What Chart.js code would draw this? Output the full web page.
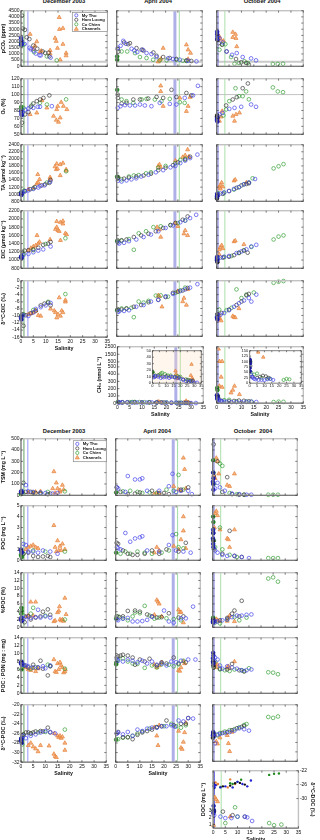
<!DOCTYPE html>
<html>
<head>
<meta charset="utf-8">
<script src="https://cdn.jsdelivr.net/npm/chart.js@4.4.1/dist/chart.umd.min.js"></script>
<style>
  body { margin: 0; width: 320px; height: 840px; position: relative; overflow: hidden; background: #fff; }
  canvas { position: absolute; }
  .ct { position: absolute; transform: translateX(-50%); font: bold 5.8px "Liberation Sans", Arial, sans-serif; line-height: 1; white-space: nowrap; color: #111; }
</style>
</head>
<body>
<div class="ct" style="left:64px;top:-1.5px">December 2003</div>
<div class="ct" style="left:158px;top:-1.5px">April 2004</div>
<div class="ct" style="left:262px;top:-1.5px">October 2004</div>
<div class="ct" style="left:64px;top:429px">December 2003</div>
<div class="ct" style="left:157px;top:429px">April 2004</div>
<div class="ct" style="left:253px;top:429px">October&nbsp; 2004</div>
<script>
// every panel array: [My Tho, Ham Luong, Co Chien, Channels], points are [salinity, value]
const SERIES_NAMES = ['My Tho', 'Ham Luong', 'Co Chien', 'Channels'];

const pco2Dec = [
  [[0,2300],[0.2,2050],[0.3,1850],[0.1,1750],[1.5,1800],[3.5,1500],[4,1380],[5,1280],[6,1030],[7.5,900],[8,880],[12,700]],
  [[0.4,4100],[0.7,3050],[1.6,2950],[2.3,2350],[3.4,2200],[5,1680],[6.6,1420],[8.8,1200],[9.8,1080],[11.2,1100],[11.5,800]],
  [[0.1,1880],[0.2,1700],[0.3,1780],[1,1750],[5.3,1150],[10.5,800],[14.5,480]],
  [[3.7,2600],[5,1390],[5.7,1660],[6.4,2000],[7.7,1150],[8.2,1250],[11.8,1290],[11.8,1020],[13.8,2280],[14.3,2030],[14.8,1470],[15.5,3960],[15.6,3000],[17,3080],[17,1790],[18.3,1070],[18.3,860],[15.9,530]]
];
const pco2Apr = [
  [[0.5,1500],[1.6,1660],[2.7,2060],[3.8,1820],[6.1,1420],[7.2,1280],[8.4,1150],[10.6,1340],[12.2,1070],[14.2,990],[16.3,750],[21,640],[23,590],[25.8,530],[29.2,450],[32.6,400]],
  [[0.4,1390],[0.7,1200],[3,1930],[4.7,1790],[5.4,1870],[8.1,1470],[10.2,1340],[10.9,1280],[15,1120],[16.3,850],[19,750],[21.7,670],[24.4,590],[28.5,480],[30.5,430]],
  [[0.2,800],[0.2,530],[2,1200],[4.3,1200],[7.5,1070],[9.5,750],[12.2,670],[14.9,530],[17.6,480],[20.4,480],[24.4,530],[27,450],[28.5,430]],
  [[19,1470],[17.4,480],[17,370],[18,590],[28.5,1740],[29.2,1340],[30.2,1070],[29.2,590]]
];
const pco2Oct = [
  [[0.2,2800],[0.2,2600],[0.3,2400],[0.2,2200],[1.1,2270],[2.4,1930],[4,1200],[6.2,930],[8.1,1070],[10.5,750],[13.9,640],[15.9,480]],
  [[0.3,2140],[0.8,1870],[2.2,1740],[4,1200],[7.8,590],[9.9,320],[11.9,270],[13,130]],
  [[1.1,1340],[2.2,1790],[3.5,1790],[5.8,750],[7.2,210],[9,270],[11.2,400],[12.6,270],[22.7,190],[24.7,190],[26.8,210]],
  [[1.1,2410],[1.5,2200],[2.7,2060],[6.5,2760],[6.5,2350],[7.6,2600],[7.8,2270],[8.1,1600]]
];

const o2Dec = [
  [[0.1,79],[0.2,76],[0.3,74],[0.7,78],[1.6,81],[3,82.5],[5,83.3],[6.8,84.6],[7.7,84.6],[12.5,85.4]],
  [[0.4,64.6],[1.6,75],[3,78],[4,84.6],[5,88.8],[6.4,91.7],[7.7,93.8],[9.1,95.8],[11.5,99]],
  [[0.1,84.6],[0.2,82],[1,83.3],[4.3,86.3],[7.7,89.6],[10.5,87.5],[18.3,94]],
  [[3.7,75],[6.4,77],[8.5,92.5],[10.5,83.3],[13.2,72.9],[14.3,67.9],[15.2,65.4],[15.9,70.8],[16.3,90.4],[17.2,85.4],[18.6,81.3],[14.5,81.3],[14.9,85.4]]
];
const o2Apr = [
  [[0.4,83.3],[1.6,85.4],[3.4,86.7],[5.4,86.3],[7.5,86.3],[9.5,87.5],[11.5,86.3],[14.2,85.4],[17.6,89.6],[21.7,88.3],[24.4,87.5],[27.8,95.8],[31.2,99],[33.2,111]],
  [[0.4,100],[0.5,95.8],[2,88.8],[4,89.6],[6.8,93.8],[9.5,93.8],[12.9,95],[16.3,97],[19,95.8],[22.4,106],[24.4,97],[28.5,102],[30.5,99]],
  [[0.2,106],[2,93.8],[4,91.7],[6.8,89.6],[10.2,93.8],[12.2,94.6],[15.6,93.8],[18.3,91.7],[21.7,94.6],[25.8,90.4],[27.8,89.6]],
  [[18,111],[18,104],[19,85.4],[25.8,95.8],[28.5,79],[29.2,85.4],[30,96.7]]
];
const o2Oct = [
  [[0.1,68],[0.2,70],[0.3,66],[1.1,75],[2.4,77],[5.1,82],[7.2,83.3],[9.9,84.6],[13.9,87.5],[15.9,84.6]],
  [[0.1,72],[0.2,74],[0.3,71],[3.8,86.3],[6.5,93.8],[8.1,96.7],[10.5,108],[12.6,114]],
  [[2.7,73.8],[3.8,81.3],[5.1,91.7],[7.6,108],[9,98],[10.5,98],[11.9,104],[13,94],[22.7,109],[24.7,104],[26.8,103]],
  [[1.1,66.7],[1.8,72],[2.2,79.2],[6.5,73],[7.2,66.7],[7.8,75],[9.2,77]]
];

const taDec = [
  [[0,1000],[0.1,1030],[0.2,980],[0.7,1060],[1.6,1080],[3,1110],[5,1150],[7,1190],[7.7,1230],[9.5,1250],[11.8,1350]],
  [[0.3,1020],[1.6,1090],[3.7,1140],[5.7,1200],[8.4,1250],[9.8,1280],[11.5,1320],[12,1400]],
  [[0.1,1060],[1.2,1100],[5,1170],[10.5,1330],[18.3,1650]],
  [[3,1140],[5,1180],[6.4,1300],[7,1330],[7.5,1420],[6.8,1560],[11.8,1480],[11.8,1430],[13.8,1780],[14.3,1700],[14.8,1720],[14.5,1860],[15.9,1840],[17,1880],[15.9,1530],[18.3,1700],[18.3,1660]]
];
const taApr = [
  [[0.5,1380],[2,1360],[4,1390],[6,1420],[8,1450],[10,1500],[13,1550],[16,1620],[19,1680],[22,1760],[24,1800],[26,1880],[28,1950],[30,2020],[33,2120]],
  [[0.4,1450],[0.6,1480],[3,1440],[5,1470],[8,1500],[11,1530],[14,1580],[17,1680],[20,1750],[23,1820],[25,1900],[28,1980],[30,2060]],
  [[0.2,1500],[0.5,1460],[2,1420],[5,1500],[7,1530],[9,1540],[12,1590],[14,1620],[17,1750],[20,1800],[24,1880],[26,1970],[28,2000]],
  [[17,1800],[17.5,1840],[18,1760],[24,1950],[27,2050],[28,2100],[29,2260],[29.5,2060]]
];
const taOct = [
  [[0.1,930],[0.2,960],[0.3,990],[0.2,1010],[1.5,1020],[3,1050],[5,1090],[7,1150],[9,1200],[11,1280],[13,1330],[15.5,1430]],
  [[0.1,880],[0.3,940],[2.5,1010],[5,1090],[8,1180],[10,1250],[12,1290],[13,1310]],
  [[0.5,1030],[3,1040],[7,1130],[9,1200],[11,1280],[13,1330],[14.5,1450],[23,1730],[25,1790],[27,1850]],
  [[1,1200],[1.5,1260],[2,1330],[1.5,1150],[2.5,1210],[7,1380],[7.5,1410],[12,1330]]
];

const dicDec = [
  [[0,1070],[0.2,1100],[0.3,1050],[1,1120],[3,1150],[5,1190],[7,1230],[9,1260],[12,1330]],
  [[0.4,1200],[1.5,1230],[3,1240],[5,1260],[7,1300],[9,1370],[11,1400],[12,1440]],
  [[0.2,1090],[1,1150],[5,1240],[10,1390],[18,1530]],
  [[3,1230],[4,1290],[5,1330],[6,1360],[7,1400],[6.5,1600],[7.5,1440],[11.8,1500],[14,1750],[14.5,1800],[15,1720],[15.5,1700],[14.5,1940],[16,1920],[17,1880],[17,1950],[16,1480],[18,1650],[18.5,1620]]
];
const dicApr = [
  [[0.5,1420],[1,1400],[3,1420],[5,1460],[8,1500],[11,1560],[14,1620],[17,1700],[20,1780],[23,1840],[26,1920],[28,1960],[30,2020],[32.5,2100]],
  [[0.4,1480],[2,1480],[4,1500],[7,1560],[10,1600],[13,1640],[16,1700],[19,1780],[22,1850],[24,1900],[27,1980],[29,2060]],
  [[0.2,1460],[2,1470],[5,1510],[7,1250],[9,1650],[12,1700],[15,1800],[18,1820],[22,1850],[25,1900],[28,1960]],
  [[16.5,1800],[17.5,1740],[18,1560],[24,1900],[25,1820],[27.5,1640],[28,1720],[29,1600]]
];
const dicOct = [
  [[0.2,990],[0.3,1020],[0.1,1050],[0.2,1080],[1.5,1060],[3,1080],[5,1100],[8,1170],[10,1210],[12,1260],[14,1330],[16,1370]],
  [[0.3,950],[0.1,1000],[2.5,1060],[5,1080],[7,1120],[9,1180],[11,1230],[12.5,1180]],
  [[0.5,1060],[3,1070],[6,1100],[9,1170],[11,1240],[14,1320],[23,1500],[25,1570],[27,1600]],
  [[1,1250],[1.5,1310],[2,1360],[2.5,1280],[1,1140],[7,1450],[7.5,1470],[11,1380]]
];

const d13dicDec = [
  [[0,-10.5],[0.2,-11],[0.3,-10],[1,-9.8],[3,-10],[5,-9],[6,-8],[8,-7.5],[10,-7],[12,-6.3]],
  [[0.5,-9.5],[1,-12.8],[2,-9.8],[4,-9.2],[6,-8.5],[8,-7],[9.5,-6.5],[11,-6.2],[12,-7]],
  [[0.2,-9.8],[1,-9.5],[5,-8.3],[11,-6],[18,-3.8]],
  [[3,-9.5],[4,-9.3],[5,-9],[6,-8.5],[7,-9.8],[8,-10],[12,-8],[13.5,-8.5],[14,-9],[14.5,-10.5],[15,-9.5],[15.5,-4.8],[16,-10],[16.5,-8.5],[17,-9],[18,-6],[18,-5.5]]
];
const d13dicApr = [
  [[0.5,-9],[1,-8.8],[3,-8.7],[5,-8.5],[8,-7.5],[11,-7],[14,-6],[17,-5.5],[20,-4.5],[23,-3.8],[26,-3],[28,-2.5],[30,-2],[33,-1]],
  [[0.4,-8.2],[2,-8.3],[4,-8],[7,-7.5],[10,-7],[13,-6.2],[17,-5.5],[20,-4.7],[23,-3.5],[25,-3.2],[27,-2.8],[29,-2.1]],
  [[0.2,-8.5],[2,-8],[4,-8],[6,-7.8],[7,-10.5],[9,-6],[11,-6.3],[13,-5.8],[16,-4.3],[18,-4.2],[21,-4.6],[24,-3.5],[26,-2.8],[28,-2]],
  [[17,-4.2],[17.5,-4.5],[18.5,-7.5],[25,-3],[27,-6],[27.5,-5],[28.5,-7],[29,-2.5]]
];
const d13dicOct = [
  [[0.2,-10.8],[0.3,-11.2],[0.1,-10.5],[0.5,-10],[1.5,-9.8],[3,-9.3],[5,-8.5],[7,-7.5],[9,-6.5],[11,-5.7],[13,-5],[14,-6],[16,-4]],
  [[0.3,-9.6],[2,-9.3],[5,-8.3],[8,-7],[10,-6],[12,-4.2],[13,-3.8]],
  [[0.5,-10],[1,-8.3],[4,-8.5],[6,-7.8],[8,-2.5],[10,-5],[12,-4],[15,-3.4],[23,-0.6],[25,-0.3],[27,-0.1]],
  [[0.8,-10.5],[1.2,-11],[1.8,-11.5],[1,-10.2],[6.5,-10.2],[7,-10.5],[7.5,-10.6],[9,-8]]
];

const ch4Apr = [
  [[0.5,10],[1,9],[2,11],[4,10],[6,8],[8,9],[10,9],[12,8],[14,10],[16,9],[18,8],[20,7],[22,5],[24,3],[26,2],[28,3],[30,1],[32,1]],
  [[0.4,12],[2,10],[4,12],[7,10],[10,11],[13,10],[16,9],[19,9],[22,6],[25,5],[27,4],[29,4]],
  [[0.2,17],[2,12],[5,13],[6,15],[7,16],[9,14],[11,12],[13,12],[16,10],[18,11],[20,10],[24,6],[26,5],[28,3]],
  [[16.5,19],[17,14],[17.5,10],[18,7],[28,29],[27.5,12],[28.5,8],[29,5]]
];
const ch4Oct = [
  [[0.1,110],[0.2,100],[0.3,90],[0.2,70],[0.3,55],[1,40],[1.5,30],[2,25],[3,20],[4,18],[6,15],[8,15],[10,14],[12,18],[14,20],[16,15]],
  [[0.2,105],[0.3,95],[0.5,80],[2,30],[5,25],[7,30],[9,35],[11,32],[13,25]],
  [[0.2,210],[0.3,180],[0.5,100],[1,50],[3,40],[5,45],[8,25],[12,22],[14,20],[23,15],[25,20],[27,18]],
  [[0.7,2200],[1.1,560],[2.2,560],[1.8,360],[1.1,236],[2.2,220],[7.2,236],[6.5,180],[5.8,143],[9.2,120]]
];
const CH4_LOWER_TICKS = [0, 100, 200, 300, 400, 500];
const CH4_UPPER_TICKS = [500, 1500, 2500];

const tsmDec = [
  [[0,30],[0.2,40],[0.3,25],[2,90],[3,35],[5,30],[8,25],[10,20],[13,15],[15,20]],
  [[1,110],[2,30],[4,30],[6,20],[8,15],[11,10],[12,15]],
  [[0,10],[0.2,20],[1,15],[5,25],[8,20],[11,30],[18,35]],
  [[3,25],[5,20],[6,30],[8,35],[13.5,210],[13,60],[14.5,110],[15,60],[16,30],[16,45],[17,90],[17.5,50],[14,20]]
];
const tsmApr = [
  [[0.5,70],[1,60],[4,30],[5,170],[8,140],[10,140],[11,150],[13,40],[18,40],[22,80],[23.5,190],[25,30],[27,40],[30,40],[31.5,10]],
  [[0.4,70],[2,30],[5,10],[8,15],[10,25],[15,40],[18,20],[20,20],[22,10],[27,50],[30,70]],
  [[0.2,25],[3,35],[6,40],[9,30],[11,20],[14,25],[17,20],[21,50],[24,40],[26,180],[28,50]],
  [[16,10],[17,20],[18,15],[24,80],[26,50],[27,40],[28,330],[28.5,230],[29,60]]
];
const tsmOct = [
  [[0.2,200],[0.3,150],[0.1,120],[0.2,100],[0.3,50],[1,60],[2,110],[3,70],[5,40],[8,15],[11,10],[14,5],[16,5]],
  [[0.4,450],[0.5,170],[2,300],[4,30],[6,160],[8,10],[11,5],[13,5]],
  [[0.2,310],[0.3,200],[0.5,100],[3,280],[4,260],[7,20],[10,10],[13,5],[23,5],[25,5],[27,5]],
  [[0.5,170],[1,150],[1.5,330],[2,300],[2.5,190],[6,90],[7,80],[9,190]]
];

const pocDec = [
  [[0,1.0],[0.2,0.8],[0.3,0.7],[1,1.5],[2,1.4],[3,0.8],[5,0.8],[7,0.7],[9,0.9],[12,0.8],[15,0.6]],
  [[1,0.6],[3,0.7],[5,0.4],[7,0.3],[9,0.35],[11,0.4],[12,0.3]],
  [[0,0.5],[0.2,0.4],[0.3,0.3],[1,0.6],[5,0.9],[10,0.8],[18,0.8]],
  [[2,1.0],[3,1.2],[4,1.3],[5,1.4],[6,1.2],[7,1.1],[13.5,3.2],[14,1.2],[15,1.8],[15.5,0.9],[16,1.3],[16.5,0.9],[17,1.5],[18,1.0],[14.5,0.8]]
];
const pocApr = [
  [[0.5,1.2],[1,1.1],[2,1.0],[4,2.5],[6,1.7],[8,2.0],[10,2.1],[11,2.2],[13,0.9],[18,0.8],[22,1.4],[23.5,2.3],[25,0.9],[28,0.8],[31,0.7]],
  [[0.4,1.6],[1,1.5],[3,0.9],[5,0.6],[7,0.5],[9,0.5],[12,0.6],[15,0.9],[18,0.6],[21,1.0],[26,0.8],[29,1.6]],
  [[0.2,0.7],[2,0.6],[4,0.8],[6,0.6],[9,0.8],[12,0.7],[15,0.6],[19,0.7],[22,0.9],[25,2.4],[26,1.2],[28,1.1]],
  [[16,0.7],[17,1.2],[18,0.9],[24,1.3],[26,1.0],[27,1.9],[28,4.0],[28,2.7],[29,1.1]]
];
const pocOct = [
  [[0.2,2.8],[0.3,2.5],[0.1,2.0],[0.2,1.5],[0.3,1.2],[1,0.9],[2,0.7],[4,0.5],[6,0.4],[9,0.4],[12,0.3],[15,0.2]],
  [[0.2,2.5],[0.3,1.8],[0.5,1.0],[4,0.6],[7,2.7],[9,0.4],[12,0.3]],
  [[0.2,4.0],[0.3,3.5],[0.5,1.8],[1,1.2],[3,3.0],[4,1.0],[7,0.5],[10,0.3],[23,0.2],[25,0.2],[27,0.2]],
  [[1,4.3],[1.5,4.5],[2,4.1],[0.7,3.0],[3,2.8],[6,2.0],[6.5,1.9],[7,1.2],[9,2.8]]
];

const ppocDec = [
  [[0,2.0],[0.2,2.5],[0.3,1.6],[1,2.2],[2,2.7],[4,2.4],[6,2.6],[8,2.5],[10,2.8],[12,2.5],[7,4.5]],
  [[0.5,1.8],[1.5,1.3],[3,2.8],[4,2.0],[6,2.5],[8,2.8],[9,4.0],[11,4.6],[12,3.2]],
  [[0.2,5.0],[0.3,4.2],[0.1,3.5],[1,3.0],[4,3.5],[5,5.0],[10,3.0],[18,2.0]],
  [[2,2.8],[3,3.0],[4,6.5],[6,6.5],[5,3.0],[13.5,1.5],[14,1.7],[15,3.8],[15.5,4.2],[15.8,5.3],[16,2.0],[16.5,1.7],[17,2.0],[17.5,1.6],[18,7.5],[18.5,3.3]]
];
const ppocApr = [
  [[0.5,2.0],[1,1.8],[3,2.2],[5,2.4],[7,1.5],[9,1.5],[11,1.6],[13,1.9],[15,2.7],[20,4.3],[22,1.5],[24,1.2],[27,2.3],[29,2.3],[32,5.3]],
  [[0.4,2.8],[1.5,2.6],[3,2.8],[5,4.2],[8,4.3],[10,4.0],[13,3.3],[15,2.8],[17,2.5],[19,2.6],[22,3.6],[26,2.5],[28,2.8]],
  [[0.2,2.2],[1,2.8],[3,2.3],[5,1.8],[7,2.8],[8,3.8],[10,3.6],[12,5.5],[14,3.0],[16,2.2],[18,2.5],[21,2.3],[24,2.1],[27,1.8]],
  [[16,3.2],[17,7.0],[17.5,6.5],[18,6.0],[19,2.8],[26,4.5],[26.5,3.8],[27,3.9],[28,1.2]]
];
const ppocOct = [
  [[0.2,1.3],[0.3,1.8],[0.1,1.5],[0.2,1.2],[1,1.5],[2,1.5],[4,1.8],[6,2.0],[8,2.6],[10,3.0],[12,3.0],[14,3.2],[16,3.3]],
  [[0.2,2.0],[0.5,1.5],[3,1.8],[6,2.4],[8,3.5],[9,4.3],[12,6.8],[11,2.8]],
  [[0.2,2.5],[0.3,1.6],[1,1.2],[3,1.0],[6,2.0],[9,2.6],[11,1.8],[14,2.5],[23,12.5],[25,12.8],[27,11.7]],
  [[1,1.5],[1.5,2.1],[2,1.8],[3,1.5],[6,1.6],[6.5,2.5],[7,3.0],[9,1.5]]
];

const cnDec = [
  [[0,7.5],[0.2,8],[0.3,7.2],[0.1,7.8],[1,7.2],[2,7.0],[3,6.8],[5,6.5],[7,6.5],[9,6.8],[10,6.3],[12,7.0]],
  [[0.5,7.3],[1.5,7.0],[3,6.5],[5,7.2],[7,6.5],[8,8.2],[9,6.2],[11,4.5],[12,6.8]],
  [[0.2,6.0],[0.5,6.8],[1,7.0],[4,6.2],[6,6.5],[11,7.2],[12,6.9],[18,6.2]],
  [[2,6.5],[3,6.0],[4,5.8],[5,6.3],[6,5.5],[7,6.2],[13.5,8.5],[14,5.5],[14.5,5.3],[15,7.5],[15.5,6.0],[16,7.8],[16.5,7.0],[17,6.5],[17.5,5.2],[18,5.5],[18.2,6.0]]
];
const cnApr = [
  [[0.5,8.5],[1,8.2],[3,8.0],[5,8.5],[7,8.2],[9,7.8],[11,8.2],[13,7.5],[15,8.0],[17,7.2],[19,7.5],[21,7.0],[23,8.0],[25,7.8],[27,8.2],[30,8.5],[33,8.5]],
  [[0.4,9.0],[1,9.3],[2,9.5],[3,9.7],[5,9.5],[7,9.0],[8,7.2],[10,8.5],[12,8.0],[14,8.7],[17,7.0],[19,7.8],[21,7.5],[24,9.0],[26,7.5],[29,7.8]],
  [[0.2,7.3],[0.3,7.8],[1,8.5],[3,8.8],[5,8.0],[7,7.5],[9,7.4],[12,6.4],[15,7.0],[17,6.5],[19,7.3],[22,7.2],[24,6.8],[26,7.3],[28,8.2]],
  [[16,7.2],[17,6.5],[18,7.0],[19,7.8],[26,5.8],[26.5,5.6],[27,6.5],[28,8.0],[28.5,7.5]]
];
const cnOct = [
  [[0.2,10.2],[0.3,9.5],[0.1,8.8],[0.2,8.0],[0.3,7.5],[1,9.0],[2,8.5],[3,7.0],[4,6.2],[6,6.8],[8,6.5],[10,6.2],[12,5.8],[14,5.8],[16,6.0]],
  [[0.2,8.0],[0.3,7.0],[0.5,6.6],[3,6.2],[6,6.0],[8,7.4],[11,5.8],[13,5.5]],
  [[0.2,7.8],[0.4,6.5],[1,8.0],[3,6.0],[5,5.8],[7,5.6],[9,6.0],[12,5.8],[13,5.6],[15,6.3],[23,5.3],[25,5.2],[27,4.8]],
  [[1,7.5],[1.5,6.5],[2,7.2],[6,6.5],[6.5,6.8],[7,6.3],[9,8.0]]
];

const d13pocDec = [
  [[0,-27.5],[0.2,-27.0],[0.3,-28.0],[0.1,-27.2],[1,-26.5],[2,-27.0],[4,-26.5],[6,-26.2],[8,-25.8],[10,-25.5],[12,-25.7],[14,-26.0]],
  [[0.5,-26.5],[1,-26.2],[2,-25.8],[3,-25.8],[4,-26.0],[5,-25.8],[6,-25.6],[8,-25.5],[9,-25.6],[11,-24.8],[12,-25.8]],
  [[0.2,-27.0],[0.3,-27.5],[0.5,-28.3],[1,-26.3],[4,-26.0],[7,-25.8],[10,-25.7],[18,-25.2]],
  [[3,-28.5],[4,-28.0],[5,-28.8],[6,-29.2],[7,-29.8],[8,-28.5],[13.5,-30.3],[14,-30.8],[14.5,-31],[13.7,-26.0],[15,-26.5],[15.5,-26.8],[16,-26.5],[16.5,-27.0],[17,-26.7],[18,-28],[18,-29.5],[11.5,-28.6]]
];
const d13pocApr = [
  [[0.5,-26],[1,-25.8],[3,-26.2],[5,-25.7],[7,-26.5],[9,-25.2],[11,-25.5],[13,-25.0],[15,-24.8],[17,-24.8],[19,-24.5],[21,-24.5],[23,-24.3],[24.5,-24.6],[26,-23.3],[28,-23.5],[30,-22.8],[32,-22.9]],
  [[0.4,-26.0],[1,-25.7],[3,-26.8],[5,-26.8],[7,-27.2],[9,-26.3],[11,-25.8],[13,-25.5],[15,-25.2],[17,-24.7],[19,-24.5],[21,-23.3],[24,-24.3],[27,-24],[29,-24.0],[30,-22.8]],
  [[0.2,-27.3],[1,-27.2],[3,-26.9],[5,-26.8],[7,-26.5],[9,-26.0],[11,-25.6],[14,-25.0],[17,-24.7],[20,-24.5],[23,-24.0],[25,-24.5],[27,-24.8],[29,-24.3]],
  [[16,-24.7],[17,-26.5],[17.5,-28.5],[18,-24.3],[26,-25.5],[27,-29.0],[27.5,-29.3],[28,-27.8],[28.5,-25.8],[29,-23.8]]
];
const d13pocOct = [
  [[0.2,-25.8],[0.3,-26.2],[0.1,-26.5],[0.5,-26.8],[1,-28.2],[2,-26.3],[3,-26.2],[5,-26.0],[7,-25.8],[9,-25.5],[11,-25.0],[13,-25.2],[15,-25.5]],
  [[0.2,-26.0],[0.3,-26.5],[0.1,-27.0],[4,-26.0],[6,-25.8],[8,-25.4],[10,-25.0],[12,-24.7],[13,-24.5]],
  [[0.2,-26.8],[0.4,-26.0],[2,-26.5],[3,-26.0],[5,-25.7],[7,-25.4],[9,-25.2],[11,-24.8],[13,-24.3],[14,-24.1],[23,-22.6],[25,-22.8],[27,-22.5]],
  [[1,-26.5],[1.5,-27.8],[2,-28.3],[3,-27.0],[6,-26.5],[6.5,-28.2],[7,-29.9],[8,-25.8]]
];

const docOct = [
  [[0.2,3.6],[0.3,3.0],[0.1,2.6],[0.4,2.3],[3,2.1],[5,1.9],[7.5,1.9],[10,2.1],[13,2.1],[14,2.0],[16,1.5]],
  [[0.3,2.8],[4,2.8],[8,2.3],[13,2.1]],
  [[0.2,3.0],[5,1.2],[9,3.4],[10,2.1],[23,1.2],[25,0.9],[28,1.0]],
  [[0.2,0.9],[0.7,4.8],[1.2,4.5],[1.8,4.2],[7,2.1]]
];
const d13docOct = [
  [[0.2,-26.5],[0.4,-26],[0.6,-26.8],[1,-26.2],[3,-26.8],[5,-26.5],[8,-26.8],[10,-25.2],[12,-25.8],[14,-26.5],[15.5,-24.8]],
  [[0.2,-25.5],[0.4,-27],[4,-26.5],[7,-26.3],[9,-25.6],[11,-25.5],[13,-26.0]],
  [[0.3,-26.2],[3,-26.7],[7,-25.6],[8,-25.8],[10,-25.2],[11.5,-24.6],[23,-23.2],[25,-22.9],[27,-22.8]],
  [[1,-25.4],[1.5,-26],[2,-25.8],[6,-26.8],[7,-24.5],[9,-25.8]]
];
const DOC_TICKS = [1, 2, 3];
const D13DOC_TICKS = [-22, -26, -30];

const PCO2_ATM = 370;
const O2_SAT = 100;
// salinity of the two vertical markers for each campaign (Dec, Apr, Oct)
const MARK_SAL = [[1.2, 2.8], [23.8, 25.6], [0.5, 3.3]];

// ---------- style ----------
const FONT = '"Liberation Sans", Arial, sans-serif';
const COLORS = ['#4646ec', '#3a3a3a', '#38a038', '#e5803a'];
const FILLS = ['#1a1aa8', '#1e1e1e', '#1d7a1d', 'rgba(245,172,112,0.85)'];
const DOTS = ['#2020d0', '#111', '#1d8a1d', '#e5803a'];
const MARK_STYLE = [
  [{ c: 'rgba(40,120,40,0.9)', w: 0.8 }, { c: 'rgba(110,110,250,0.9)', w: 0.8 }],
  [{ c: 'rgba(150,150,225,0.75)', w: 3 }, { c: 'rgba(140,210,140,0.9)', w: 0.9 }],
  [{ c: 'rgba(50,50,210,0.9)', w: 0.9 }, { c: 'rgba(150,215,150,0.9)', w: 0.9 }]
];

Chart.defaults.font.family = FONT;
Chart.defaults.font.size = 5;
Chart.defaults.color = '#111';

const framePlugin = {
  id: 'frame',
  beforeDatasetsDraw(chart, args, o) {
    const { ctx, chartArea: a, scales } = chart;
    ctx.save();
    if (o.bg) { ctx.fillStyle = o.bg; ctx.fillRect(a.left, a.top, a.width, a.height); }
    ctx.beginPath(); ctx.rect(a.left, a.top, a.width, a.height); ctx.clip();
    (o.hlines || []).forEach(h => {
      const y = scales.y.getPixelForValue(h.v);
      ctx.strokeStyle = h.c; ctx.lineWidth = h.w;
      ctx.beginPath(); ctx.moveTo(a.left, y); ctx.lineTo(a.right, y); ctx.stroke();
    });
    (o.vlines || []).forEach(l => {
      const x = scales.x.getPixelForValue(l.s);
      ctx.strokeStyle = l.c; ctx.lineWidth = l.w;
      ctx.beginPath(); ctx.moveTo(x, a.top); ctx.lineTo(x, a.bottom); ctx.stroke();
    });
    ctx.restore();
  },
  afterDatasetsDraw(chart, args, o) {
    const { ctx, chartArea: a, scales } = chart;
    const tl = o.tick || 2;
    ctx.save();
    if (!o.thin) {
      ctx.strokeStyle = '#c2c2c2'; ctx.lineWidth = 1.4;
      ctx.strokeRect(a.left, a.top, a.width, a.height);
    }
    ctx.strokeStyle = '#2a2a2a'; ctx.lineWidth = 0.6;
    ctx.beginPath();
    ctx.moveTo(a.left, a.top); ctx.lineTo(a.left, a.bottom); ctx.lineTo(a.right, a.bottom);
    if (o.thin) { ctx.lineTo(a.right, a.top); ctx.lineTo(a.left, a.top); }
    scales.x.ticks.forEach(t => {
      const x = scales.x.getPixelForValue(t.value);
      ctx.moveTo(x, a.bottom); ctx.lineTo(x, a.bottom - tl);
      ctx.moveTo(x, a.top); ctx.lineTo(x, a.top + tl);
    });
    scales.y.ticks.forEach(t => {
      const y = scales.y.getPixelForValue(t.value);
      ctx.moveTo(a.left, y); ctx.lineTo(a.left + tl, y);
      if (!scales.y2) { ctx.moveTo(a.right, y); ctx.lineTo(a.right - tl, y); }
    });
    if (scales.y2) scales.y2.ticks.forEach(t => {
      const y = scales.y2.getPixelForValue(t.value);
      ctx.moveTo(a.right, y); ctx.lineTo(a.right - tl, y);
    });
    ctx.stroke();
    if (o.legend) drawLegend(ctx, a, o.legend);
    ctx.restore();
  }
};
Chart.register(framePlugin);

function drawLegend(ctx, a, L) {
  const x0 = a.right - L.w, y0 = a.top + L.dy;
  ctx.fillStyle = '#fff'; ctx.fillRect(x0, y0, L.w, L.h);
  ctx.strokeStyle = '#8a8a8a'; ctx.lineWidth = 0.7; ctx.strokeRect(x0, y0, L.w, L.h);
  ctx.font = 'bold 4.2px ' + FONT;
  ctx.textBaseline = 'middle';
  SERIES_NAMES.forEach((n, i) => {
    const cy = y0 + L.first + i * L.gap, cx = x0 + 4;
    ctx.lineWidth = 0.7; ctx.strokeStyle = COLORS[i];
    ctx.beginPath();
    if (i === 3) {
      ctx.moveTo(cx, cy - 2); ctx.lineTo(cx + 2, cy + 1.5); ctx.lineTo(cx - 2, cy + 1.5); ctx.closePath();
      ctx.fillStyle = FILLS[3]; ctx.fill();
    } else {
      ctx.arc(cx, cy, 1.6, 0, Math.PI * 2);
    }
    ctx.stroke();
    ctx.fillStyle = '#111';
    ctx.fillText(n, x0 + 9.5, cy + 0.2);
  });
}

function isUpstream(c) { return c.raw && c.raw.x < 0.35; }

function scatterSets(group, opt) {
  opt = opt || {};
  return group.map((pts, i) => ({
    label: SERIES_NAMES[i],
    yAxisID: opt.axis || 'y',
    data: pts.map(p => ({ x: p[0], y: opt.yf ? opt.yf(p[1]) : p[1] })),
    pointStyle: i === 3 ? 'triangle' : 'circle',
    pointRadius: (i === 3 ? 2.3 : 1.85) * (opt.scale || 1),
    pointBorderWidth: 0.7,
    pointBorderColor: c => (i < 3 && isUpstream(c)) ? FILLS[i] : COLORS[i],
    pointBackgroundColor: c => i === 3 ? FILLS[3] : (isUpstream(c) ? FILLS[i] : 'rgba(255,255,255,0)'),
    clip: opt.clip === undefined ? false : opt.clip
  }));
}

function dotSets(group, axis) {
  return group.map((pts, i) => ({
    label: SERIES_NAMES[i],
    yAxisID: axis,
    data: pts.map(p => ({ x: p[0], y: p[1] })),
    pointStyle: 'circle',
    pointRadius: 1.2,
    pointBorderWidth: 0,
    pointBackgroundColor: DOTS[i],
    clip: false
  }));
}

function xAxis(labels, small) {
  return {
    type: 'linear', min: 0, max: 35,
    ticks: { stepSize: 5, display: labels, padding: small ? 0.5 : 1, autoSkip: false, maxRotation: 0, font: { size: small ? 4 : 5 }, callback: v => String(v) },
    grid: { display: false, drawTicks: false },
    border: { display: false },
    title: { display: labels && !small, text: 'Salinity', font: { size: 5.3, weight: 'bold' }, padding: { top: 0.5, bottom: 0 } }
  };
}

function yAxis(v, labels, forceW, pos) {
  const ax = {
    type: 'linear', min: v.min, max: v.max, position: pos || 'left',
    ticks: { stepSize: v.step, display: labels, padding: 1.5, autoSkip: false, font: { size: v.small ? 4 : 5 },
      callback: v.labels ? (val, i) => v.labels[i] : val => String(val) },
    grid: { display: false, drawTicks: false },
    border: { display: false },
    title: { display: labels && !!v.title, text: v.title, font: { size: 5.3, weight: 'bold' }, padding: { top: 0, bottom: 1 } }
  };
  if (forceW) ax.afterFit = s => { s.width = forceW; };
  if (v.ticks) ax.afterBuildTicks = s => { s.ticks = v.ticks.map(t => ({ value: t })); };
  return ax;
}

function mkCanvas(w, h) {
  const c = document.createElement('canvas');
  c.width = w; c.height = h;
  c.style.width = w + 'px'; c.style.height = h + 'px';
  document.body.appendChild(c);
  return c;
}

// build a chart, then resize/move its canvas so the plot area lands on box [l, t, r, b]
function place(box, makeCfg) {
  const [l, t, r, b] = box;
  const W = r - l, H = b - t;
  let cw = W + 40, chh = H + 24;
  let c = mkCanvas(cw, chh);
  let ch = new Chart(c, makeCfg());
  const a = ch.chartArea;
  cw += W - (a.right - a.left);
  chh += H - (a.bottom - a.top);
  ch.destroy(); c.remove();
  c = mkCanvas(Math.round(cw), Math.round(chh));
  ch = new Chart(c, makeCfg());
  c.style.left = (l - ch.chartArea.left) + 'px';
  c.style.top = (t - ch.chartArea.top) + 'px';
  return ch;
}

function panel(box, o) {
  return place(box, () => ({
    type: 'scatter',
    data: { datasets: o.datasets() },
    options: {
      responsive: false, animation: false, devicePixelRatio: 1,
      layout: { padding: { top: 4, right: o.padR === undefined ? 4 : o.padR, bottom: 2, left: 0 } },
      plugins: {
        legend: { display: false }, tooltip: { enabled: false },
        frame: { vlines: o.vlines, hlines: o.hlines, legend: o.legend, bg: o.bg, thin: o.thin, tick: o.tick }
      },
      scales: o.scales()
    }
  }));
}

function marks(c) {
  return MARK_SAL[c].map((s, i) => ({ s: s, c: MARK_STYLE[c][i].c, w: MARK_STYLE[c][i].w }));
}

// ---------- upper figure ----------
const TOP_COLS = [[21, 107], [117, 203], [217, 304]];
const TOP_ROWS = [[11, 67], [79, 135], [145, 202], [211, 269], [281, 337]];
const TOP_VARS = [
  { title: 'pCO₂ (ppm)', min: 0, max: 4500, step: 500, sets: [pco2Dec, pco2Apr, pco2Oct], h: { v: PCO2_ATM, c: '#cacaca', w: 2 } },
  { title: 'O₂ (%)', min: 50, max: 120, step: 10, sets: [o2Dec, o2Apr, o2Oct], h: { v: O2_SAT, c: '#b4b4b4', w: 0.8 } },
  { title: 'TA (µmol kg⁻¹)', min: 800, max: 2400, step: 200, sets: [taDec, taApr, taOct] },
  { title: 'DIC (µmol kg⁻¹)', min: 800, max: 2200, step: 200, sets: [dicDec, dicApr, dicOct] },
  { title: 'δ¹³C-DIC (‰)', min: -16, max: 0, step: 2, sets: [d13dicDec, d13dicApr, d13dicOct] }
];
const LEG_TOP = { w: 35, h: 19, dy: 1.7, first: 2.9, gap: 4.5 };
const LEG_BOT = { w: 33, h: 21, dy: 2, first: 3.2, gap: 4.5 };

TOP_VARS.forEach((v, r) => {
  TOP_COLS.forEach((col, c) => {
    panel([col[0], TOP_ROWS[r][0], col[1], TOP_ROWS[r][1]], {
      datasets: () => scatterSets(v.sets[c]),
      scales: () => ({ x: xAxis(r === 4 && c === 0), y: yAxis(v, c === 0, c === 0 ? 21 : 0) }),
      vlines: marks(c),
      hlines: v.h ? [v.h] : [],
      legend: r === 0 && c === 0 ? LEG_TOP : null
    });
  });
});

// CH4 with a broken axis: 0-500 linear, 500-2500 compressed on top
function ch4Pos(v) { return v <= 500 ? v : 569 + (v - 500) * 0.1045; }
const ch4Axis = {
  title: 'CH₄ (nmol L⁻¹)', min: 0, max: ch4Pos(2500),
  ticks: CH4_LOWER_TICKS.concat(CH4_UPPER_TICKS.map((t, i) => i === 0 ? 569 : ch4Pos(t))),
  labels: CH4_LOWER_TICKS.concat(CH4_UPPER_TICKS).map(String)
};
[[ch4Apr, 1], [ch4Oct, 2]].forEach(([set, c]) => {
  panel([TOP_COLS[c][0], 347, TOP_COLS[c][1], 403], {
    datasets: () => scatterSets(set, { yf: ch4Pos }),
    scales: () => ({ x: xAxis(true), y: yAxis(ch4Axis, c === 1) }),
    vlines: marks(c)
  });
});
// insets
[[ch4Apr, [152, 351, 201, 383], { min: 0, max: 50, step: 10, small: true }, 'rgba(255,226,196,0.3)'],
 [ch4Oct, [250, 351, 302, 383], { min: 0, max: 150, step: 25, small: true }, null]].forEach(([set, box, v, bg]) => {
  panel(box, {
    datasets: () => scatterSets(set, { scale: 0.85, clip: 0 }),
    scales: () => ({ x: xAxis(true, true), y: yAxis(v, true) }),
    thin: true, tick: 1.5, bg: bg, padR: 3
  });
});

// ---------- lower figure ----------
const BOT_COLS = [[21, 106], [116, 201], [213, 298]];
const BOT_ROWS = [[439, 496], [506, 561], [573, 628], [638, 694], [705, 762]];
const BOT_VARS = [
  { title: 'TSM (mg L⁻¹)', min: 0, max: 500, step: 100, sets: [tsmDec, tsmApr, tsmOct] },
  { title: 'POC (mg L⁻¹)', min: 0, max: 5, step: 1, sets: [pocDec, pocApr, pocOct] },
  { title: '%POC (%)', min: 0, max: 14, step: 2, sets: [ppocDec, ppocApr, ppocOct] },
  { title: 'POC : PON (mg : mg)', min: 0, max: 14, step: 2, sets: [cnDec, cnApr, cnOct] },
  { title: 'δ¹³C-POC (‰)', min: -32, max: -20, step: 2, sets: [d13pocDec, d13pocApr, d13pocOct] }
];
BOT_VARS.forEach((v, r) => {
  BOT_COLS.forEach((col, c) => {
    panel([col[0], BOT_ROWS[r][0], col[1], BOT_ROWS[r][1]], {
      datasets: () => scatterSets(v.sets[c]),
      scales: () => ({ x: xAxis(r === 4 && c < 2), y: yAxis(v, c === 0, c === 0 ? 21 : 0) }),
      vlines: marks(c),
      legend: r === 0 && c === 0 ? LEG_BOT : null
    });
  });
});

// DOC and δ13C-DOC share the last panel
panel([213, 771, 298, 828], {
  datasets: () => dotSets(d13docOct, 'y2').concat(scatterSets(docOct)),
  scales: () => ({
    x: xAxis(true),
    y: yAxis({ title: 'DOC (mg L⁻¹)', min: 0.5, max: 8.5, ticks: DOC_TICKS }, true),
    y2: yAxis({ title: 'δ¹³C-DOC (‰)', min: -38.5, max: -22, ticks: D13DOC_TICKS }, true, 0, 'right')
  }),
  vlines: marks(2),
  padR: 0
});
</script>
</body>
</html>
